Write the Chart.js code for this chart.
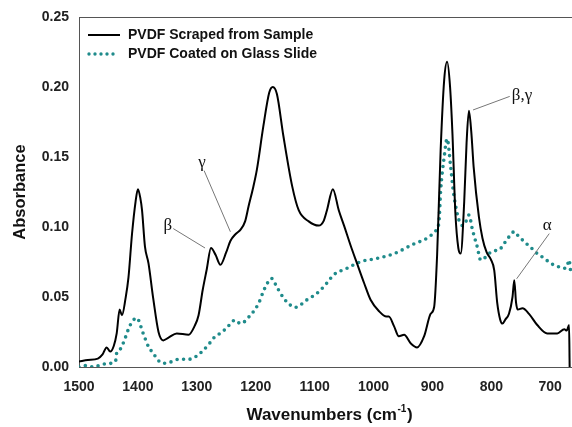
<!DOCTYPE html>
<html>
<head>
<meta charset="utf-8">
<script src="https://cdn.jsdelivr.net/npm/chart.js@4"></script>
<style>
  html, body { margin: 0; padding: 0; background: #fff; }
  #wrap { width: 572px; height: 427px; position: relative; }
</style>
</head>
<body>
<div id="wrap"><canvas id="ftir"></canvas></div>
<script>
// wavenumbers (cm-1) and absorbance
const scrapedX = [1500, 1485, 1468, 1460, 1453, 1447, 1441, 1436, 1431, 1427, 1421, 1416, 1410, 1404, 1400, 1396, 1393, 1388, 1382, 1374, 1365, 1357, 1348, 1334, 1314, 1304, 1297, 1290, 1283, 1276, 1268, 1260, 1250, 1243, 1234, 1226, 1218, 1212, 1205, 1198, 1187, 1177, 1171, 1164, 1153, 1138, 1127, 1110, 1093, 1085, 1079, 1069, 1059, 1050, 1039, 1028, 1016, 1005, 991, 978, 974, 965, 957, 948, 937, 926, 914, 903, 897, 892, 886, 880, 875, 870, 866, 861, 856, 852, 846, 842, 838, 834, 830, 821, 815, 808, 801, 795, 790, 785, 781, 776, 770, 764, 761, 758, 755, 747, 736, 722, 705, 688, 676, 672, 668, 667];
const scrapedY = [0.004, 0.005, 0.006, 0.009, 0.014, 0.011, 0.015, 0.024, 0.041, 0.037, 0.049, 0.064, 0.095, 0.118, 0.127, 0.121, 0.112, 0.086, 0.074, 0.049, 0.025, 0.019, 0.021, 0.024, 0.023, 0.029, 0.037, 0.055, 0.070, 0.085, 0.080, 0.073, 0.082, 0.090, 0.095, 0.098, 0.104, 0.115, 0.127, 0.141, 0.172, 0.196, 0.200, 0.195, 0.165, 0.129, 0.112, 0.104, 0.101, 0.104, 0.112, 0.127, 0.112, 0.101, 0.087, 0.074, 0.060, 0.048, 0.040, 0.036, 0.036, 0.029, 0.022, 0.023, 0.017, 0.014, 0.022, 0.038, 0.043, 0.080, 0.155, 0.205, 0.218, 0.200, 0.167, 0.110, 0.085, 0.081, 0.118, 0.160, 0.183, 0.168, 0.143, 0.107, 0.092, 0.082, 0.077, 0.069, 0.046, 0.034, 0.031, 0.034, 0.038, 0.050, 0.062, 0.046, 0.041, 0.042, 0.038, 0.030, 0.024, 0.024, 0.027, 0.026, 0.030, 0.0];

const coatedX = [1500, 1490, 1475, 1464, 1450, 1438, 1436, 1433, 1425, 1413, 1402, 1391, 1382, 1374, 1365, 1357, 1345, 1331, 1317, 1308, 1294, 1280, 1272, 1257, 1249, 1235, 1226, 1209, 1195, 1187, 1180, 1173, 1164, 1153, 1146, 1133, 1113, 1096, 1079, 1068, 1045, 1022, 994, 965, 931, 909, 895, 889, 886, 880, 875, 869, 864, 855, 849, 843, 838, 832, 824, 818, 811, 804, 795, 787, 776, 768, 761, 755, 744, 732, 722, 710, 699, 688, 679, 672, 668, 665];
const coatedY = [0.0, 0.001, 0.0, 0.0015, 0.0025, 0.004, 0.010, 0.011, 0.017, 0.030, 0.035, 0.024, 0.0145, 0.0098, 0.0045, 0.0026, 0.0035, 0.0055, 0.0055, 0.006, 0.010, 0.016, 0.0205, 0.025, 0.028, 0.0335, 0.031, 0.037, 0.0455, 0.054, 0.060, 0.0633, 0.057, 0.0495, 0.046, 0.0426, 0.048, 0.0526, 0.060, 0.0657, 0.0705, 0.0752, 0.0776, 0.081, 0.088, 0.092, 0.097, 0.103, 0.126, 0.150, 0.163, 0.143, 0.124, 0.105, 0.101, 0.104, 0.1086, 0.098, 0.086, 0.0764, 0.078, 0.081, 0.083, 0.0836, 0.0895, 0.094, 0.0967, 0.094, 0.0895, 0.085, 0.081, 0.0776, 0.074, 0.072, 0.0705, 0.071, 0.0764, 0.067];

const xTicks = [1500, 1400, 1300, 1200, 1100, 1000, 900, 800, 700];
const yTicks = [0.00, 0.05, 0.10, 0.15, 0.20, 0.25];

const seriesNames = ["PVDF Scraped from Sample", "PVDF Coated on Glass Slide"];

// peak labels: text, label position (wn, abs), leader end (wn, abs), side the leader leaves from
const peakText = ["\u03B2", "\u03B3", "\u03B2,\u03B3", "\u03B1"];
const peakLabelX = [1349, 1291, 748, 705];
const peakLabelY = [0.101, 0.146, 0.194, 0.101];
const peakEndX = [1286, 1243, 831, 757];
const peakEndY = [0.085, 0.0966, 0.1836, 0.063];
const peakSide = ["right", "below", "left", "below"];

const TEAL = "#1f8b8b";
const SANS = "'Liberation Sans', Arial, sans-serif";

function toPoints(xs, ys) {
    return xs.map((x, i) => ({ x: x, y: ys[i] }));
}

const frame = {
    id: "frame",
    afterDraw(chart) {
        const c = chart.ctx;
        const area = chart.chartArea;
        const xs = chart.scales.x;
        const ys = chart.scales.y;
        c.save();
        // top border
        c.strokeStyle = "#555";
        c.lineWidth = 1;
        c.beginPath();
        c.moveTo(area.left, area.top + 0.5);
        c.lineTo(area.right, area.top + 0.5);
        c.stroke();

        // legend
        c.lineWidth = 2;
        c.strokeStyle = "#000";
        c.beginPath();
        c.moveTo(88, 35);
        c.lineTo(120, 35);
        c.stroke();
        c.strokeStyle = TEAL;
        c.lineWidth = 3.4;
        c.lineCap = "round";
        c.setLineDash([0, 6]);
        c.beginPath();
        c.moveTo(89, 54);
        c.lineTo(119, 54);
        c.stroke();
        c.setLineDash([]);
        c.fillStyle = "#111";
        c.font = "bold 14px " + SANS;
        c.textBaseline = "middle";
        c.textAlign = "left";
        c.fillText(seriesNames[0], 128, 35);
        c.fillText(seriesNames[1], 128, 54);

        // peak annotations
        c.font = "17px 'Liberation Serif', 'Times New Roman', serif";
        c.strokeStyle = "#777";
        c.lineWidth = 1;
        c.lineCap = "butt";
        peakText.forEach((txt, i) => {
            const tx = xs.getPixelForValue(peakLabelX[i]);
            const ty = ys.getPixelForValue(peakLabelY[i]);
            const ex = xs.getPixelForValue(peakEndX[i]);
            const ey = ys.getPixelForValue(peakEndY[i]);
            c.fillStyle = "#111";
            c.textAlign = "center";
            c.fillText(txt, tx, ty);
            const w = c.measureText(txt).width;
            let sx, sy;
            if (peakSide[i] === "right") { sx = tx + w / 2 + 1; sy = ty + 3; }
            else if (peakSide[i] === "left") { sx = tx - w / 2 - 2; sy = ty + 1; }
            else { sx = tx + 2; sy = ty + 8; }
            c.beginPath();
            c.moveTo(sx, sy);
            c.lineTo(ex, ey);
            c.stroke();
        });

        // x axis title with superscript
        c.fillStyle = "#111";
        c.textAlign = "left";
        c.textBaseline = "alphabetic";
        const main = "Wavenumbers (cm";
        c.font = "bold 17px " + SANS;
        const w1 = c.measureText(main).width;
        c.font = "bold 10px " + SANS;
        const w2 = c.measureText("-1").width;
        c.font = "bold 17px " + SANS;
        const w3 = c.measureText(")").width;
        const x0 = 329 - (w1 + w2 + w3) / 2;
        const base = 420;
        c.fillText(main, x0, base);
        c.font = "bold 10px " + SANS;
        c.fillText("-1", x0 + w1 + 0.5, base - 8);
        c.font = "bold 17px " + SANS;
        c.fillText(")", x0 + w1 + w2 + 1, base);
        c.restore();
    }
};

new Chart(document.getElementById("ftir"), {
    type: "line",
    data: {
        datasets: [
            {
                label: seriesNames[0],
                data: toPoints(scrapedX, scrapedY),
                borderColor: "#000",
                borderWidth: 2,
                pointRadius: 0,
                cubicInterpolationMode: "monotone",
                fill: false,
                order: 0
            },
            {
                label: seriesNames[1],
                data: toPoints(coatedX, coatedY),
                borderColor: TEAL,
                borderWidth: 3.6,
                borderDash: [0, 6.5],
                borderCapStyle: "round",
                pointRadius: 0,
                cubicInterpolationMode: "monotone",
                fill: false,
                order: 1
            }
        ]
    },
    options: {
        responsive: true,
        maintainAspectRatio: false,
        animation: false,
        layout: { padding: { top: 17, right: 0, left: 0, bottom: 0 } },
        scales: {
            x: {
                type: "linear",
                reverse: true,
                min: 663,
                max: 1500,
                afterBuildTicks: (s) => { s.ticks = xTicks.map(v => ({ value: v })); },
                afterFit: (s) => { s.height = 60; },
                grid: { display: false, drawTicks: true, tickLength: 5, tickColor: "#555" },
                border: { color: "#555", width: 1 },
                ticks: {
                    color: "#222",
                    padding: 7,
                    maxRotation: 0,
                    callback: (v) => String(v),
                    font: { family: SANS, size: 14, weight: "bold" }
                }
            },
            y: {
                min: 0,
                max: 0.25,
                afterBuildTicks: (s) => { s.ticks = yTicks.map(v => ({ value: v })); },
                afterFit: (s) => { s.width = 79; },
                grid: { display: false, drawTicks: true, tickLength: 5, tickColor: "#555" },
                border: { color: "#555", width: 1 },
                title: {
                    display: true,
                    text: "Absorbance",
                    color: "#111",
                    padding: { top: 11, bottom: 0 },
                    font: { family: SANS, size: 16.5, weight: "bold" }
                },
                ticks: {
                    color: "#222",
                    padding: 5,
                    callback: (v) => v.toFixed(2),
                    font: { family: SANS, size: 14, weight: "bold" }
                }
            }
        },
        plugins: {
            legend: { display: false },
            tooltip: { enabled: false }
        }
    },
    plugins: [frame]
});
</script>
</body>
</html>
